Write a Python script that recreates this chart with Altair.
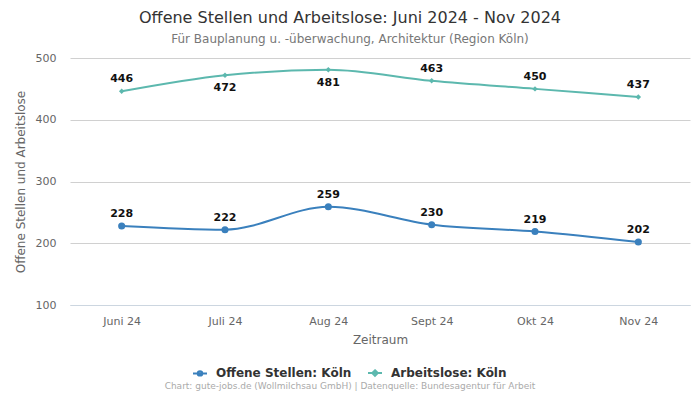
import altair as alt
import pandas as pd

months = ["Juni 24", "Juli 24", "Aug 24", "Sept 24", "Okt 24", "Nov 24"]
offene = [228, 222, 259, 230, 219, 202]
arbeitslose = [446, 472, 481, 463, 450, 437]
series_names = ["Offene Stellen: Köln", "Arbeitslose: Köln"]
label_below_offene = [False, False, False, False, False, False]
label_below_arbeitslose = [False, True, True, False, False, False]
colors = ["#3a80bd", "#5cb8ae"]
footer_text = "Chart: gute-jobs.de (Wollmilchsau GmbH) | Datenquelle: Bundesagentur für Arbeit"

rows = []
for i, m in enumerate(months):
    rows.append({"Monat": m, "Serie": series_names[0], "Wert": offene[i], "below": label_below_offene[i], "order": i})
    rows.append({"Monat": m, "Serie": series_names[1], "Wert": arbeitslose[i], "below": label_below_arbeitslose[i], "order": i})
df = pd.DataFrame(rows)
df["Legende"] = df["Serie"]

FONT = "DejaVu Sans"
W, H = 620, 247

x_enc = alt.X("Monat:N", sort=months, scale=alt.Scale(type="point", padding=0.5),
              axis=alt.Axis(title="Zeitraum", labelAngle=0, ticks=False, domain=True,
                            domainColor="#ccd6e0", labelColor="#666666", labelFontSize=11,
                            labelPadding=10, titleColor="#666666", titleFontSize=12,
                            titleFontWeight="normal", titlePadding=8, grid=False))
y_enc = alt.Y("Wert:Q", scale=alt.Scale(domain=[100, 500], nice=False, zero=False),
              axis=alt.Axis(title="Offene Stellen und Arbeitslose", values=[100, 200, 300, 400, 500],
                            ticks=False, domain=False, gridColor="#d0d0d0", labelColor="#666666",
                            labelFontSize=11, labelPadding=14, titleColor="#666666", titleFontSize=12,
                            titleFontWeight="normal", titlePadding=8))
color_scale = alt.Scale(domain=series_names, range=colors)

base = alt.Chart(df)

lines = base.mark_line(interpolate="monotone", strokeWidth=2).encode(
    x=x_enc, y=y_enc,
    color=alt.Color("Serie:N", scale=color_scale, legend=None),
    detail="Serie:N",
    order="order:Q",
)

points = base.mark_point(filled=True, opacity=1).encode(
    x=x_enc, y=y_enc,
    color=alt.Color("Serie:N", scale=color_scale, legend=None),
    shape=alt.Shape("Serie:N", scale=alt.Scale(domain=series_names, range=["circle", "diamond"]), legend=None),
    size=alt.Size("Serie:N", scale=alt.Scale(domain=series_names, range=[50, 30]), legend=None),
)

labels_above = base.transform_filter("!datum.below").mark_text(
    dy=-12, font=FONT, fontSize=11, fontWeight="bold", color="#111111"
).encode(x=x_enc, y=y_enc, text="Wert:Q")

labels_below = base.transform_filter("datum.below").mark_text(
    dy=13, font=FONT, fontSize=11, fontWeight="bold", color="#111111"
).encode(x=x_enc, y=y_enc, text="Wert:Q")

legend_paths = [
    "M-1,0H1M-0.32,0A0.32,0.32 0 1,0 0.32,0A0.32,0.32 0 1,0 -0.32,0",
    "M-1,0H1M0,-0.4L0.4,0L0,0.4L-0.4,0Z",
]
legend_layer = base.transform_filter("false").mark_point(filled=False, opacity=1, strokeWidth=2, size=196).encode(
    x=x_enc, y=y_enc,
    color=alt.Color("Legende:N", scale=alt.Scale(domain=series_names, range=colors), title=None,
                    legend=alt.Legend(orient="none", legendX=122, legendY=307, direction="horizontal",
                                      labelFont=FONT, labelFontSize=12, labelFontWeight="bold",
                                      labelColor="#333333", symbolSize=196, symbolStrokeWidth=2,
                                      symbolOpacity=1, labelOffset=8, columnPadding=12, labelLimit=300)),
    shape=alt.Shape("Legende:N", scale=alt.Scale(domain=series_names, range=legend_paths), title=None),
)

footer = alt.Chart(pd.DataFrame({"t": [footer_text]})).mark_text(
    font=FONT, fontSize=9, color="#aaaaaa", align="center"
).encode(x=alt.value(280), y=alt.value(328), text="t:N")

chart = alt.layer(lines, points, labels_above, labels_below, legend_layer, footer).resolve_scale(
    shape="independent", size="independent", color="independent"
).properties(
    width=W, height=H,
    autosize=alt.AutoSizeParams(type="none"),
    padding={"left": 62, "top": 50, "right": 2, "bottom": 87},
    title=alt.TitleParams(
        text="Offene Stellen und Arbeitslose: Juni 2024 - Nov 2024",
        subtitle="Für Bauplanung u. -überwachung, Architektur (Region Köln)",
        anchor="middle", dx=-30, fontSize=16, fontWeight="normal", color="#333333",
        subtitleFontSize=12, subtitleColor="#777777", subtitlePadding=8, offset=7,
        font=FONT, subtitleFont=FONT,
    ),
).configure(font=FONT).configure_view(stroke=None)

chart.save("out.html", embed_options={"renderer": "svg", "actions": False})
